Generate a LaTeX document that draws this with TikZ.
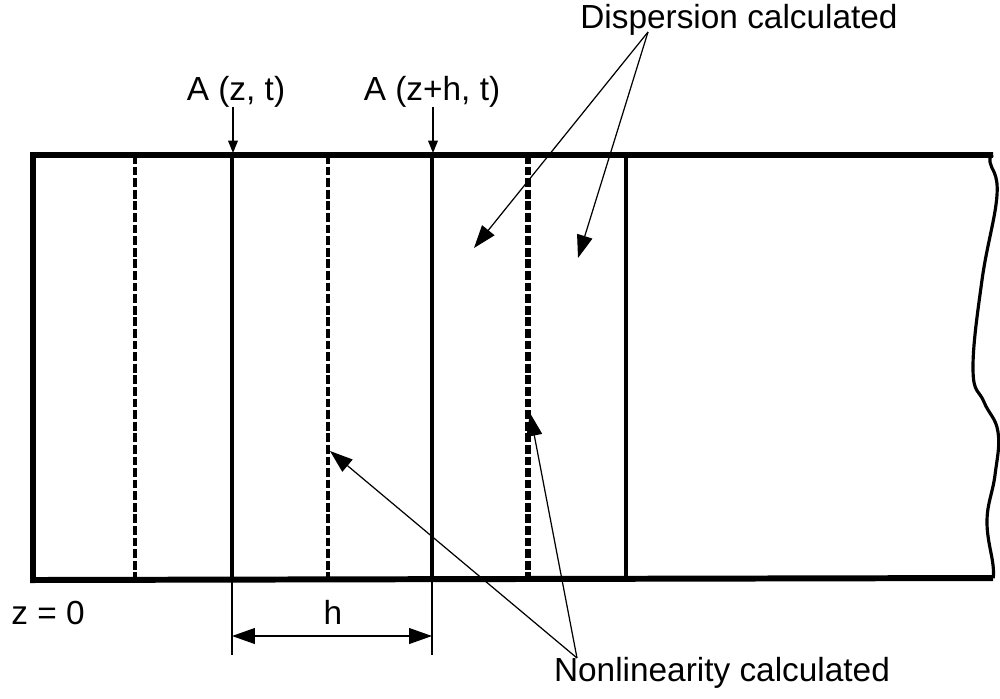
\documentclass[tikz,border=0pt]{standalone}
\usepackage{fontspec}
\setmainfont{Liberation Sans}
\usetikzlibrary{arrows.meta}

\begin{document}
\begin{tikzpicture}[x=0.02cm,y=-0.02cm,
  lbl/.style={inner sep=0pt,font=\fontsize{19}{22}\selectfont},
  wall/.style={line width=3.4pt},
  cut/.style={line width=2.5pt},
  half/.style={line width=2.8pt,dash pattern=on 5pt off 1.6pt},
  big/.style={-{Triangle[length=13pt,width=9pt]},line width=0.7pt},
  small/.style={-{Triangle[length=7pt,width=5.5pt]},line width=0.7pt}]
\useasboundingbox (0,0) rectangle (1000,698);
\coordinate (tl) at (33,155);
\coordinate (bl) at (33,580);
\coordinate (tr) at (993,155);
\coordinate (br) at (993,578);
% fibre
\draw[wall] (tr)--(tl)--(bl)--(br);
\draw[line width=1.8pt] plot[smooth,tension=0.7] coordinates
  {(993,155) (990,162) (997,195) (982,280) (973,370) (984,402) (998,432)
   (995,475) (987,520) (993,565) (993,578)};
\foreach \x in {232,432,626} \draw[cut] (\x,155)--(\x,580);
\foreach \x in {135,328} \draw[half] (\x,155)--(\x,580);
\draw[half,line width=3.4pt] (528,155)--(528,580);
% labels
\node[lbl] at (236,92)(a1){A (z, t)};
\node[lbl] at (432,92)(a2){A (z+h, t)};
\node[lbl] at (739,20)(dsp){Dispersion calculated};
\node[lbl] at (722,673)(nl){Nonlinearity calculated};
\node[lbl] at (48,613)(z0){z = 0};
\node[lbl] at (333,612)(h){h};
\coordinate (s1) at (233,153);
\coordinate (s2) at (433,153);
\draw[small] (233,107)--(s1);
\draw[small] (433,107)--(s2);
\coordinate (d0) at (648,32);
\coordinate (d1) at (474,248);
\coordinate (d2) at (578,258);
\draw[big] (d0)--(d1);
\draw[big] (d0)--(d2);
\coordinate (n0) at (577,658);
\coordinate (n1) at (330,451);
\coordinate (n2) at (530,413);
\draw[big] (n0)--(n1);
\draw[big] (n0)--(n2);
% step h
\coordinate (e1) at (232,655);
\coordinate (e2) at (432,655);
\draw[line width=0.7pt] (232,582)--(e1) (432,582)--(e2);
\draw[line width=0.7pt,{Triangle[length=13pt,width=9pt]}-{Triangle[length=13pt,width=9pt]}] (232,636)--(432,636);
\end{tikzpicture}
\end{document}
